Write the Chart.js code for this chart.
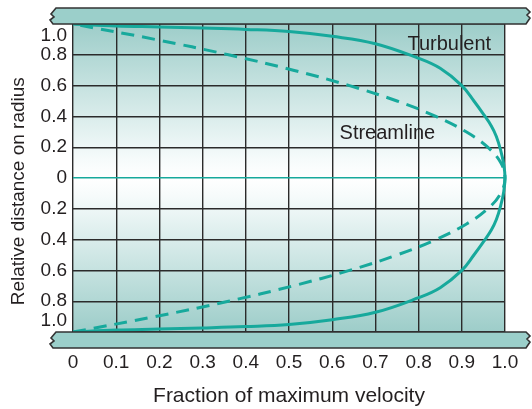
<!DOCTYPE html>
<html><head><meta charset="utf-8">
<script src="https://cdn.jsdelivr.net/npm/chart.js@4"></script>
<style>html,body{margin:0;padding:0;background:#fff;overflow:hidden}#wrap{width:532px;height:409px;position:relative}</style>
</head><body><div id="wrap"><canvas id="c" width="532" height="409" style="width:532px;height:409px"></canvas></div>
<script>
// ---- data ----
const radiusTicks = [-1.0, -0.8, -0.6, -0.4, -0.2, 0, 0.2, 0.4, 0.6, 0.8, 1.0];
const velocityTicks = [0, 0.1, 0.2, 0.3, 0.4, 0.5, 0.6, 0.7, 0.8, 0.9, 1.0];

// turbulent profile: fraction of max velocity vs relative distance from axis
const turbulentVelocity = [0, 0.1, 0.2, 0.3, 0.4, 0.5, 0.6, 0.7, 0.8, 0.85, 0.9, 0.928, 0.95, 0.968, 0.98, 0.99, 0.997, 1.0];
const turbulentRadius   = [1.0, 0.987, 0.981, 0.974, 0.965, 0.951, 0.92, 0.872, 0.777, 0.712, 0.60, 0.50, 0.415, 0.34, 0.27, 0.18, 0.09, 0];

// streamline (laminar) profile
const streamlineVelocity = [0, 0.19, 0.36, 0.51, 0.64, 0.75, 0.84, 0.91, 0.96, 0.99, 1.0];
const streamlineRadius   = [1.0, 0.9, 0.8, 0.7, 0.6, 0.5, 0.4, 0.3, 0.2, 0.1, 0];

const seriesLabels = ['Turbulent', 'Streamline'];
const xTitle = 'Fraction of maximum velocity';
const yTitle = 'Relative distance on radius';

// ---- build mirrored point lists (lower half negative, upper half positive) ----
function mirror(us, rs) {
  const pts = [];
  for (let i = 0; i < rs.length; i++) pts.push({x: us[i], y: -rs[i]});
  for (let i = rs.length - 2; i >= 0; i--) pts.push({x: us[i], y: rs[i]});
  return pts;
}

const TEAL = '#17a99c';
const GRID = '#2b2b2b';
const TEXT = '#231f20';
const FONT = '"Liberation Sans", Arial, Helvetica, sans-serif';

const bgPlugin = {
  id: 'bg',
  beforeDraw(chart) {
    const {ctx, chartArea: a} = chart;
    const g = ctx.createLinearGradient(0, a.top, 0, a.bottom);
    g.addColorStop(0, '#9dcdc9');
    g.addColorStop(0.44, '#f6fbfb');
    g.addColorStop(0.5, '#ffffff');
    g.addColorStop(0.56, '#f6fbfb');
    g.addColorStop(1, '#9dcdc9');
    ctx.save();
    ctx.fillStyle = g;
    ctx.fillRect(a.left, a.top, a.right - a.left, a.bottom - a.top);
    ctx.restore();
  }
};

function drawPipe(ctx, x0, x1, y0, y1) {
  ctx.beginPath();
  ctx.moveTo(x0 + 5, y0);
  ctx.lineTo(x1 - 3, y0);
  ctx.lineTo(x1 + 1, y0 + 4);
  ctx.lineTo(x1 - 2, y0 + 7);
  ctx.lineTo(x1 + 1, y0 + 10);
  ctx.lineTo(x1 - 3, y1);
  ctx.lineTo(x0 + 2, y1);
  ctx.lineTo(x0 - 1, y1 - 4);
  ctx.lineTo(x0 + 3, y1 - 7);
  ctx.lineTo(x0, y1 - 10);
  ctx.closePath();
  ctx.fillStyle = '#9bcfca';
  ctx.fill();
  ctx.lineWidth = 1.6;
  ctx.strokeStyle = '#333';
  ctx.stroke();
}

const pipePlugin = {
  id: 'pipe',
  afterDatasetsDraw(chart) {
    const {ctx, chartArea: a} = chart;
    ctx.save();
    drawPipe(ctx, a.left - 22, chart.width - 3, a.top - 16, a.top);
    drawPipe(ctx, a.left - 22, chart.width - 3, a.bottom, a.bottom + 16);
    // series labels positioned through the scales
    const xs = chart.scales.x, ys = chart.scales.y;
    ctx.fillStyle = TEXT;
    ctx.font = '20px ' + FONT;
    ctx.textBaseline = 'middle';
    ctx.textAlign = 'right';
    ctx.fillText(seriesLabels[0], xs.getPixelForValue(0.968), ys.getPixelForValue(0.87));
    ctx.textAlign = 'left';
    ctx.fillText(seriesLabels[1], xs.getPixelForValue(0.617), ys.getPixelForValue(0.29));
    ctx.restore();
  }
};

new Chart(document.getElementById('c'), {
  type: 'scatter',
  data: {
    datasets: [
      {
        label: seriesLabels[0],
        data: mirror(turbulentVelocity, turbulentRadius),
        showLine: true,
        borderColor: TEAL,
        borderWidth: 3,
        pointRadius: 0,
        tension: 0.4,
        fill: false
      },
      {
        label: seriesLabels[1],
        data: mirror(streamlineVelocity, streamlineRadius),
        showLine: true,
        borderColor: TEAL,
        borderWidth: 3,
        borderDash: [13, 8],
        pointRadius: 0,
        tension: 0.4,
        fill: false
      }
    ]
  },
  options: {
    responsive: false,
    maintainAspectRatio: false,
    animation: false,
    devicePixelRatio: 1,
    clip: false,
    layout: {padding: {left: 0, right: 27, top: 24, bottom: 0}},
    plugins: {legend: {display: false}, tooltip: {enabled: false}},
    scales: {
      x: {
        type: 'linear', min: 0, max: 1,
        afterBuildTicks(s) { s.ticks = velocityTicks.map(v => ({value: v})); },
        afterFit(s) { s.height = 77; s.paddingLeft = 0; s.paddingRight = 0; },
        border: {display: false},
        grid: {color: GRID, lineWidth: 1.4, drawTicks: false},
        ticks: {
          autoSkip: false, maxRotation: 0, padding: 19,
          color: TEXT, font: {family: FONT, size: 19},
          callback: v => (Math.abs(v) < 1e-9 ? '0' : v.toFixed(1))
        },
        title: {display: true, text: xTitle, color: TEXT, font: {family: FONT, size: 21}, padding: {top: 0, bottom: 0}}
      },
      y: {
        type: 'linear', min: -1, max: 1,
        afterBuildTicks(s) { s.ticks = radiusTicks.map(v => ({value: v})); },
        afterFit(s) { s.width = 73; s.paddingTop = 0; s.paddingBottom = 0; },
        border: {display: false},
        grid: {
          color: c => (Math.abs(c.tick.value) < 1e-9 ? TEAL : GRID),
          lineWidth: c => (Math.abs(c.tick.value) < 1e-9 ? 1.6 : 1.4),
          drawTicks: false
        },
        ticks: {
          autoSkip: false, padding: 6,
          color: TEXT, font: {family: FONT, size: 19},
          callback: v => {
            const t = Math.abs(v) < 1e-9 ? '0' : Math.abs(v).toFixed(1);
            if (v > 0.999) return ['', t];
            if (v < -0.999) return [t, ''];
            return t;
          }
        },
        title: {display: true, text: yTitle + '\u00a0\u00a0\u00a0\u00a0\u00a0', color: TEXT, font: {family: FONT, size: 19}, padding: {top: 7, bottom: 0}}
      }
    }
  },
  plugins: [bgPlugin, pipePlugin]
});
</script>
</body></html>
